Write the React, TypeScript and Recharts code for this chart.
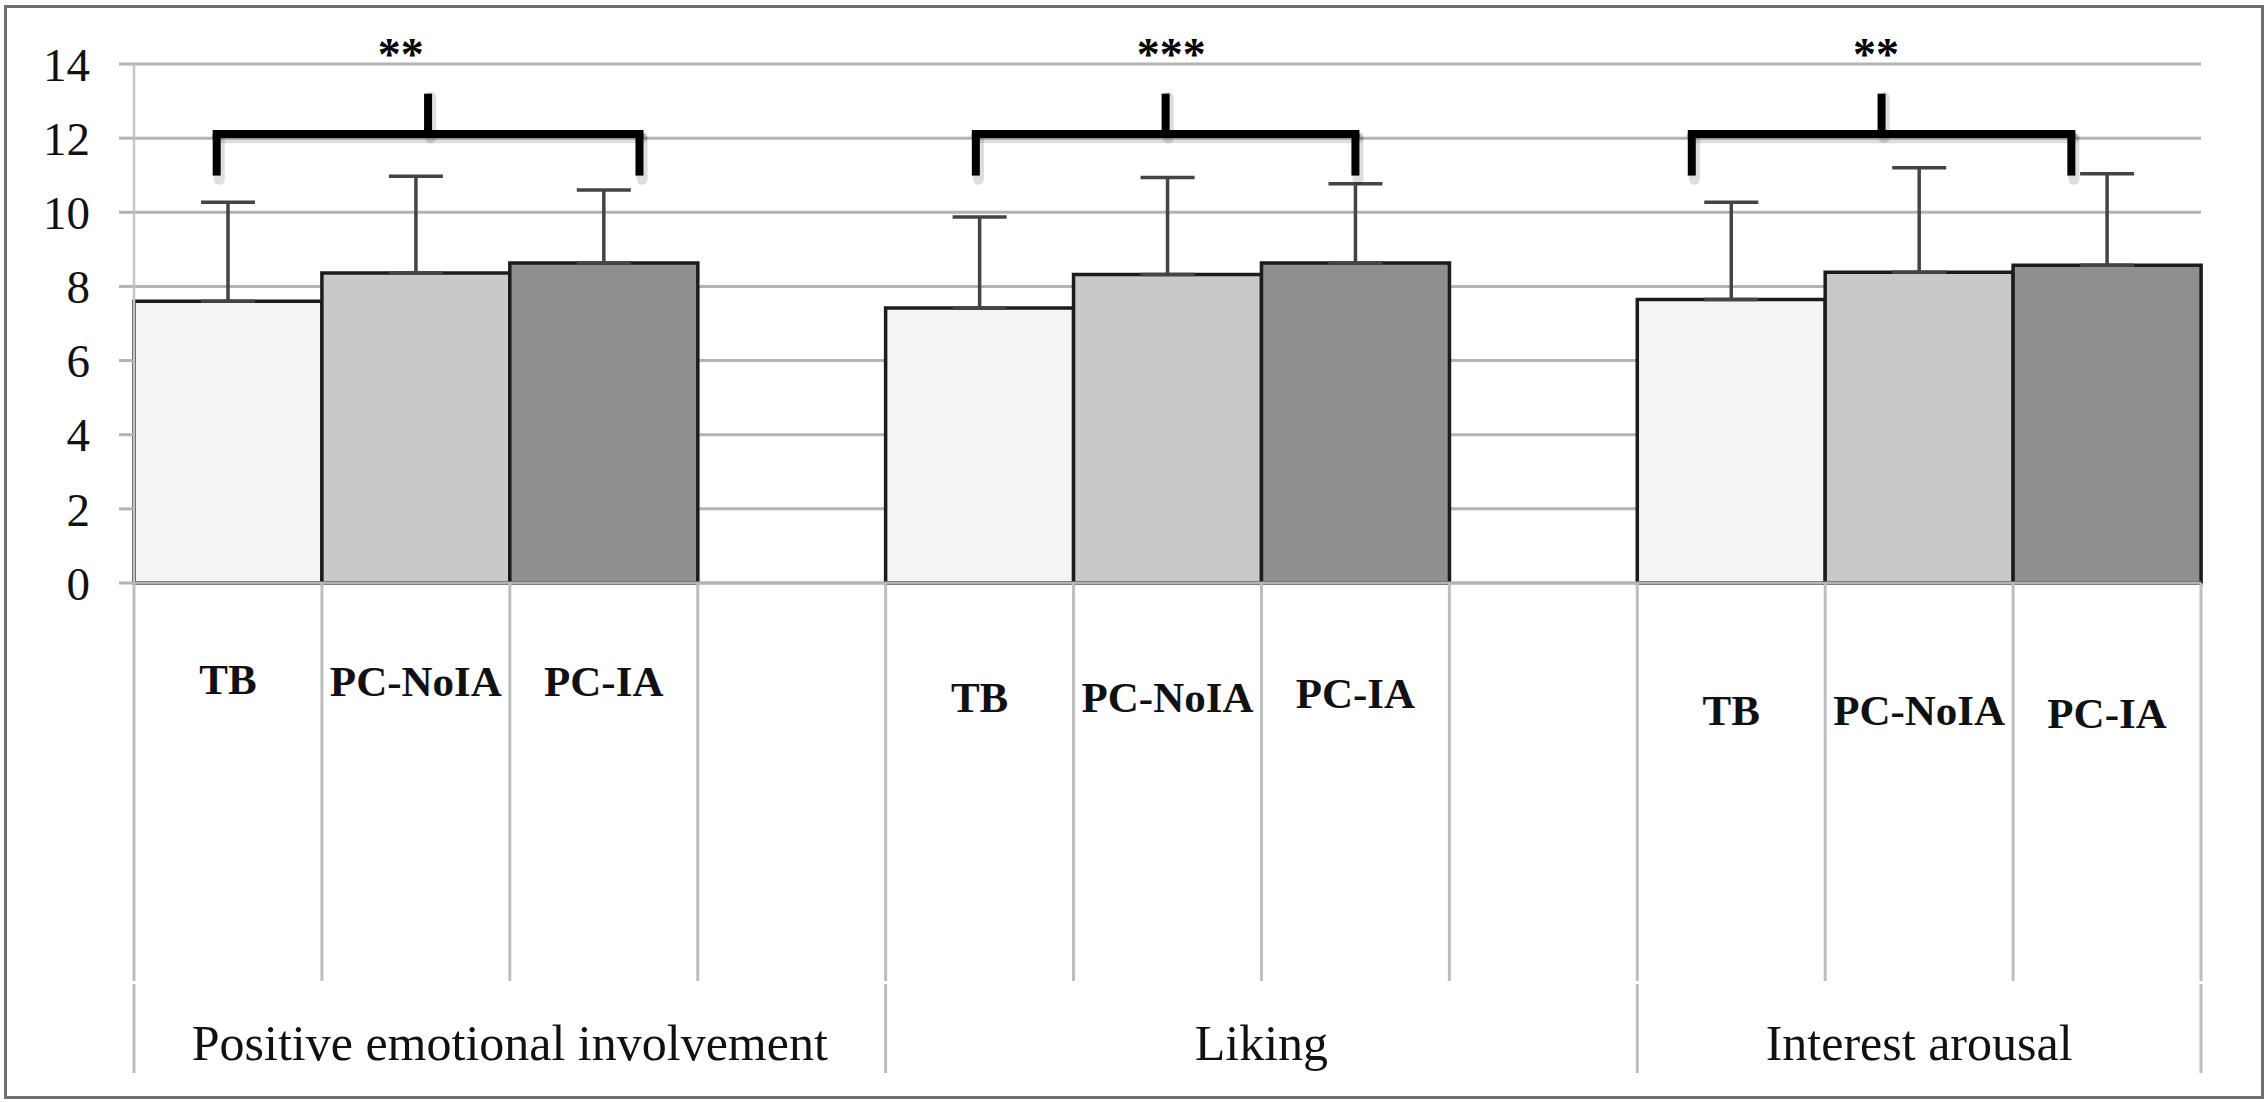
import React from 'react';
import {
  BarChart,
  Bar,
  XAxis,
  YAxis,
  CartesianGrid,
  ErrorBar,
  Cell,
  ReferenceLine,
  ReferenceDot,
} from 'recharts';

// ---------- data ----------
const groups = ['Positive emotional involvement', 'Liking', 'Interest arousal'];
const conditions = ['TB', 'PC-NoIA', 'PC-IA'];
const meansPositive = [7.6, 8.36, 8.63];
const meansLiking = [7.42, 8.32, 8.63];
const meansInterest = [7.65, 8.38, 8.57];
const sdPositive = [2.67, 2.61, 1.97];
const sdLiking = [2.45, 2.62, 2.14];
const sdInterest = [2.62, 2.82, 2.47];
const yTicks = [0, 2, 4, 6, 8, 10, 12, 14];

// significance annotations (in axis units: slot index on x, score on y)
const significance = ['**', '***', '**'];
const bracketFrom = [0.44, 4.48, 8.29];
const bracketTo = [2.69, 6.5, 10.31];
const starX = [1.42, 5.52, 9.27];
const bracketBase = 10.99;
const bracketBar = 12.11;
const bracketTop = 13.2;
const starY = 14.4;

// ---------- layout / style ----------
const W = 2267;
const H = 1102;
const MARGIN = { top: 64, right: 66, bottom: 29, left: 0 };
const YAXIS_W = 134;
const TIER1_H = 398;
const TIER2_H = 92;
const PLOT_W = W - MARGIN.left - MARGIN.right - YAXIS_W;
const conditionFills = ['#f4f4f4', '#c9c9c9', '#8f8f8f'];
const GRID = '#b3b3b3';
const SEP = '#bdbdbd';
const SERIF = '"Liberation Serif", "Times New Roman", serif';
// vertical centre of each first-tier label, measured from the axis line
const tierOneLabelCenter = [96, 98, 98, 0, 114, 114, 110, 0, 127, 127, 130];

const meansByGroup = [meansPositive, meansLiking, meansInterest];
const sdByGroup = [sdPositive, sdLiking, sdInterest];

type Slot = {
  key: string;
  label: string;
  pos: number;
  value: number | null;
  err: [number, number] | null;
  cond: number;
};

const slots: Slot[] = [];
groups.forEach((g, gi) => {
  conditions.forEach((c, ci) => {
    slots.push({
      key: `${g}|${c}`,
      label: c,
      pos: slots.length + 0.5,
      value: meansByGroup[gi][ci],
      err: [0, sdByGroup[gi][ci]],
      cond: ci,
    });
  });
  if (gi < groups.length - 1) {
    slots.push({ key: `gap${gi}`, label: '', pos: slots.length + 0.5, value: null, err: null, cond: -1 });
  }
});

// group spans in slot units
const groupStart: number[] = [];
const groupEnd: number[] = [];
{
  let p = 0;
  groups.forEach((_, gi) => {
    groupStart.push(p);
    const size = conditions.length + (gi < groups.length - 1 ? 1 : 0);
    p += size;
    groupEnd.push(p);
  });
}
const groupMid = groups.map((_, gi) =>
  gi < groups.length - 1 ? (groupStart[gi] + groupEnd[gi]) / 2 : groupStart[gi] + conditions.length / 2
);
const groupBoundaries = Array.from(new Set([...groupStart, groupEnd[groupEnd.length - 1]]));
const groupTicks = [...groupBoundaries, ...groupMid].sort((a, b) => a - b);

const CategoryTick = (props: any) => {
  const { x, y, payload } = props;
  const idx = slots.findIndex((s) => s.key === payload.value);
  const band = PLOT_W / slots.length;
  const half = typeof payload?.offset === 'number' && payload.offset > 1 ? payload.offset : band / 2;
  const slot = slots[idx];
  const isLast = idx === slots.length - 1;
  return (
    <g>
      <line x1={x - half} x2={x - half} y1={y} y2={y + TIER1_H} stroke={SEP} strokeWidth={3} />
      {isLast && (
        <line x1={x + half} x2={x + half} y1={y} y2={y + TIER1_H} stroke={SEP} strokeWidth={3} />
      )}
      {slot && slot.label && (
        <text
          x={x}
          y={y + tierOneLabelCenter[idx] + 15}
          textAnchor="middle"
          fontFamily={SERIF}
          fontWeight="bold"
          fontSize={43}
          fill="#111"
        >
          {slot.label}
        </text>
      )}
    </g>
  );
};

const GroupTick = (props: any) => {
  const { x, y, payload } = props;
  const v = payload.value;
  if (groupBoundaries.includes(v)) {
    return <line x1={x} x2={x} y1={y + 3} y2={y + TIER2_H} stroke={SEP} strokeWidth={3} />;
  }
  const gi = groupMid.indexOf(v);
  return (
    <text x={x} y={y + 79} textAnchor="middle" fontFamily={SERIF} fontSize={50} fill="#111">
      {groups[gi]}
    </text>
  );
};

const StarShape = (label: string) => (props: any) => (
  <text
    x={props.cx}
    y={props.cy}
    dy="0.46em"
    textAnchor="middle"
    fontFamily={SERIF}
    fontWeight="bold"
    fontSize={46}
    fill="#000"
  >
    {label}
  </text>
);

export default function App() {
  const shadowDx = 0.014;
  const shadowDy = 0.1;
  return (
    <div style={{ position: 'relative', width: W, height: H, background: '#fff' }}>
      <style>{`body{margin:0;background:#fff}`}</style>
      <BarChart
        width={W}
        height={H}
        data={slots}
        margin={MARGIN}
        barCategoryGap={0}
        barGap={0}
      >
        <CartesianGrid horizontal vertical={false} stroke={GRID} strokeWidth={3} />
        <YAxis
          yAxisId={0}
          type="number"
          domain={[0, 14]}
          ticks={yTicks}
          interval={0}
          width={YAXIS_W}
          tickSize={15}
          tickMargin={29}
          tickLine={{ stroke: GRID, strokeWidth: 3 }}
          axisLine={{ stroke: '#c6c6c6', strokeWidth: 2.5 }}
          tick={{ fontFamily: SERIF, fontSize: 47, fill: '#111' }}
        />
        <XAxis
          xAxisId="cat"
          dataKey="key"
          type="category"
          height={TIER1_H}
          interval={0}
          tickSize={0}
          tickMargin={0}
          tickLine={false}
          axisLine={{ stroke: GRID, strokeWidth: 3 }}
          tick={<CategoryTick />}
        />
        <XAxis
          xAxisId="grp"
          dataKey="pos"
          type="number"
          domain={[0, slots.length]}
          allowDataOverflow
          ticks={groupTicks}
          interval={0}
          height={TIER2_H}
          tickSize={0}
          tickMargin={0}
          tickLine={false}
          axisLine={false}
          tick={<GroupTick />}
        />
        <Bar
          xAxisId="cat"
          yAxisId={0}
          dataKey="value"
          isAnimationActive={false}
          stroke="#1c1c1c"
          strokeWidth={3.5}
        >
          {slots.map((s) => (
            <Cell key={s.key} fill={s.cond >= 0 ? conditionFills[s.cond] : 'none'} />
          ))}
          <ErrorBar
            dataKey="err"
            direction="y"
            width={27}
            stroke="#444"
            strokeWidth={3.5}
            isAnimationActive={false}
          />
        </Bar>

        {/* bracket shadows */}
        {bracketFrom.map((from, i) => {
          const to = bracketTo[i];
          const mid = (from + to) / 2;
          const segs = [
            [from, bracketBase, from, bracketBar],
            [from, bracketBar, to, bracketBar],
            [to, bracketBar, to, bracketBase],
            [mid, bracketBar, mid, bracketTop],
          ];
          return segs.map((s, j) => (
            <ReferenceLine
              key={`sh${i}-${j}`}
              xAxisId="grp"
              yAxisId={0}
              ifOverflow="visible"
              segment={[
                { x: s[0] + shadowDx, y: s[1] - shadowDy },
                { x: s[2] + shadowDx, y: s[3] - shadowDy },
              ]}
              stroke="rgba(0,0,0,0.13)"
              strokeWidth={11}
              strokeLinecap="round"
            />
          ));
        })}
        {/* brackets */}
        {bracketFrom.map((from, i) => {
          const to = bracketTo[i];
          const mid = (from + to) / 2;
          return [
            <ReferenceLine
              key={`l${i}`}
              xAxisId="grp"
              yAxisId={0}
              ifOverflow="visible"
              segment={[{ x: from, y: bracketBase }, { x: from, y: bracketBar }]}
              stroke="#000"
              strokeWidth={8}
              strokeLinecap="butt"
            />,
            <ReferenceLine
              key={`r${i}`}
              xAxisId="grp"
              yAxisId={0}
              ifOverflow="visible"
              segment={[{ x: to, y: bracketBase }, { x: to, y: bracketBar }]}
              stroke="#000"
              strokeWidth={8}
              strokeLinecap="butt"
            />,
            <ReferenceLine
              key={`h${i}`}
              xAxisId="grp"
              yAxisId={0}
              ifOverflow="visible"
              segment={[{ x: from, y: bracketBar }, { x: to, y: bracketBar }]}
              stroke="#000"
              strokeWidth={8}
              strokeLinecap="square"
            />,
            <ReferenceLine
              key={`m${i}`}
              xAxisId="grp"
              yAxisId={0}
              ifOverflow="visible"
              segment={[{ x: mid, y: bracketBar }, { x: mid, y: bracketTop }]}
              stroke="#000"
              strokeWidth={8}
              strokeLinecap="butt"
            />,
          ];
        })}
        {significance.map((s, i) => (
          <ReferenceDot
            key={`st${i}`}
            xAxisId="grp"
            yAxisId={0}
            x={starX[i]}
            y={starY}
            r={1}
            ifOverflow="visible"
            shape={StarShape(s)}
          />
        ))}
      </BarChart>
      <div
        style={{
          position: 'absolute',
          left: 4,
          top: 5,
          width: 2260,
          height: 1094,
          border: '3px solid #707070',
          boxSizing: 'border-box',
          pointerEvents: 'none',
        }}
      />
    </div>
  );
}
